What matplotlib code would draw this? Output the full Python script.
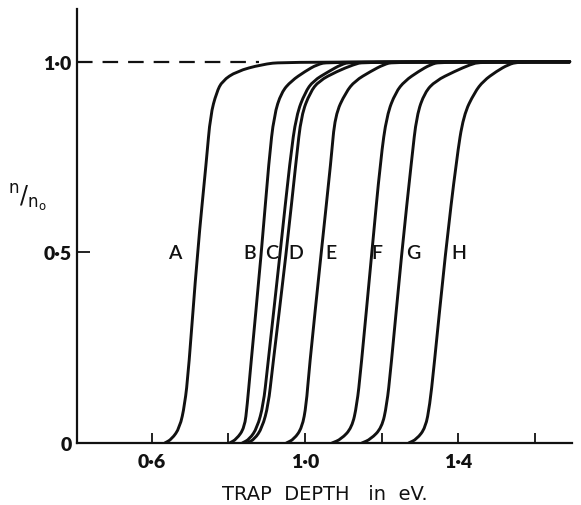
"""Fraction of filled traps against trap depth, curves A to H."""

import matplotlib.pyplot as plt
from matplotlib.path import Path
from matplotlib.patches import PathPatch
from matplotlib.ticker import FixedLocator

Y_LEVELS = [0.0, 0.01, 0.04, 0.10, 0.19, 0.50, 0.745, 0.86, 0.92, 0.95, 0.975, 0.993, 1.0]

# trap depth (eV) of each curve at the y levels above
CURVE_A = [0.634, 0.652, 0.673, 0.686, 0.696, 0.719, 0.743, 0.753, 0.769, 0.784, 0.821, 0.886, 0.945]
CURVE_B = [0.803, 0.821, 0.842, 0.849, 0.857, 0.886, 0.906, 0.919, 0.938, 0.964, 1.000, 1.031, 1.062]
CURVE_C = [0.836, 0.855, 0.875, 0.891, 0.901, 0.935, 0.961, 0.977, 1.000, 1.021, 1.062, 1.094, 1.119]
CURVE_D = [0.849, 0.868, 0.888, 0.904, 0.914, 0.951, 0.977, 0.990, 1.013, 1.036, 1.083, 1.127, 1.153]
CURVE_E = [0.951, 0.971, 0.992, 1.003, 1.010, 1.042, 1.068, 1.078, 1.106, 1.130, 1.171, 1.205, 1.231]
CURVE_F = [1.070, 1.094, 1.122, 1.135, 1.145, 1.174, 1.197, 1.213, 1.236, 1.260, 1.296, 1.327, 1.353]
CURVE_G = [1.148, 1.171, 1.200, 1.213, 1.223, 1.252, 1.278, 1.291, 1.312, 1.340, 1.390, 1.431, 1.457]
CURVE_H = [1.270, 1.291, 1.314, 1.325, 1.335, 1.366, 1.395, 1.413, 1.442, 1.465, 1.499, 1.530, 1.556]

CURVES = [CURVE_A, CURVE_B, CURVE_C, CURVE_D, CURVE_E, CURVE_F, CURVE_G, CURVE_H]
CURVE_NAMES = ["A", "B", "C", "D", "E", "F", "G", "H"]
# x position of each letter (eV), all set at n/n0 = 0.5
LABEL_X = [0.660, 0.855, 0.912, 0.977, 1.068, 1.187, 1.283, 1.400]

PLATEAU_END = 1.69   # all curves run on at 1.0 up to here
DASH_END = 0.88      # dashed guide at 1.0 from the axis to here

X_MAJOR = [0.6, 1.0, 1.4]
X_MAJOR_LABELS = ["0·6", "1·0", "1·4"]
X_MINOR = [0.8, 1.2, 1.6]
Y_TICKS = [0.0, 0.5, 1.0]
Y_TICK_LABELS = ["0", "0·5", "1·0"]

INK = "#111111"
LINE_W = 2.1


def smooth_path(xs, ys):
    """Quadratic Bezier path through the segment midpoints, read points as controls."""
    pts = list(zip(xs, ys))
    verts = [pts[0], ((pts[0][0] + pts[1][0]) / 2, (pts[0][1] + pts[1][1]) / 2)]
    codes = [Path.MOVETO, Path.LINETO]
    for i in range(1, len(pts) - 1):
        mid = ((pts[i][0] + pts[i + 1][0]) / 2, (pts[i][1] + pts[i + 1][1]) / 2)
        verts += [pts[i], mid]
        codes += [Path.CURVE3, Path.CURVE3]
    verts.append(pts[-1])
    codes.append(Path.LINETO)
    return Path(verts, codes)


plt.rcParams["font.family"] = ["Lato", "DejaVu Sans"]

fig = plt.figure(figsize=(5.81, 5.06), dpi=100)
ax = fig.add_axes([0.1325, 0.1225, 0.852, 0.858])

ax.set_xlim(0.405, 1.696)
ax.set_ylim(0.0, 1.139)

# dashed guide line at n/n0 = 1
ax.plot([0.405, DASH_END], [1.0, 1.0], color=INK, lw=1.6, dashes=(7, 4.5))

for xs in CURVES:
    path = smooth_path(xs + [PLATEAU_END], Y_LEVELS + [1.0])
    ax.add_patch(PathPatch(path, facecolor="none", edgecolor=INK, lw=LINE_W,
                           joinstyle="round", capstyle="round"))

for name, lx in zip(CURVE_NAMES, LABEL_X):
    ax.text(lx, 0.5, name, ha="center", va="center", fontsize=14,
            fontweight="semibold", color=INK)

# axes: only left and bottom, ticks pointing inwards
for side in ("top", "right"):
    ax.spines[side].set_visible(False)
for side in ("left", "bottom"):
    ax.spines[side].set_linewidth(1.6)
    ax.spines[side].set_color(INK)

ax.xaxis.set_major_locator(FixedLocator(X_MAJOR))
ax.xaxis.set_minor_locator(FixedLocator(X_MINOR))
ax.set_xticklabels(X_MAJOR_LABELS)
ax.set_yticks(Y_TICKS)
ax.set_yticklabels(Y_TICK_LABELS)

ax.tick_params(axis="x", which="both", direction="in", length=7, width=1.3,
               color=INK, pad=7)
ax.tick_params(axis="x", which="major", labelsize=14, labelcolor=INK)
ax.tick_params(axis="y", direction="in", length=9, width=1.3, color=INK,
               pad=4, labelsize=14, labelcolor=INK)
for lab in ax.get_xticklabels() + ax.get_yticklabels():
    lab.set_fontweight("heavy")

ax.set_xlabel("TRAP  DEPTH   in  eV.", fontsize=14, color=INK, labelpad=10,
              family=["DejaVu Sans"])

fig.text(0.047, 0.607, r"${}^{\mathrm{n}}/{}_{\mathrm{n}_{\mathrm{o}}}$",
         fontsize=17, color=INK, ha="center", va="center")

fig.savefig("out.png", dpi=100)
